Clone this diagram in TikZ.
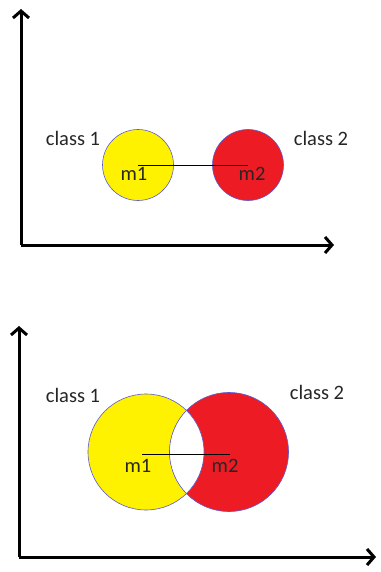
\documentclass[tikz,border=0pt]{standalone}
\usepackage{fontspec}
\setmainfont{Carlito}
\usepackage{tikz}
\usepackage{xcolor}
\usetikzlibrary{arrows.meta}
\definecolor{klasseA}{RGB}{255,242,0}
\definecolor{klasseB}{RGB}{237,28,36}
\definecolor{rand}{RGB}{90,90,210}
\tikzset{
  achse/.style={line width=3pt, -{Straight Barb[length=7pt,width=16pt,line width=3pt]}},
  kreis/.style={draw=rand, line width=0.6pt},
  etikett/.style={font=\fontsize{20.5}{24}\selectfont, text=black!85, inner sep=0pt},
  abstand/.style={line width=0.9pt}
}
\begin{document}
\begin{tikzpicture}[x=1pt,y=-1pt]
\useasboundingbox (0,0) rectangle (380,572);
% oberes Bild: Klassen weit auseinander
\coordinate (O1) at (21,245);
\coordinate (y1) at (21,9);
\coordinate (x1) at (334,245);
\draw[achse] (O1) -- (y1);
\draw[achse] (O1) -- (x1);
\coordinate (m1o) at (138,165);
\coordinate (m2o) at (248,165);
\fill[klasseA] (m1o) circle (35.5);
\fill[klasseB] (m2o) circle (35.5);
\draw[kreis] (m1o) circle (35.5);
\draw[kreis] (m2o) circle (35.5);
\draw[abstand] (m1o) -- (m2o);
\node[etikett] (k1o) at (73,138) {class 1};
\node[etikett] (k2o) at (321,138) {class 2};
\node[etikett] (t1o) at (134,174) {m1};
\node[etikett] (t2o) at (252,174) {m2};
% unteres Bild: Klassen ueberlappen sich
\coordinate (O2) at (19,557);
\coordinate (y2) at (19,326);
\coordinate (x2) at (376,557);
\draw[achse] (O2) -- (y2);
\draw[achse] (O2) -- (x2);
\coordinate (m1u) at (146,452);
\coordinate (m2u) at (229,452);
\coordinate (a1u) at (142,454);
\coordinate (a2u) at (230,454);
\fill[klasseA] (m1u) circle (58);
\fill[klasseB] (m2u) circle (59.5);
% Schnittmenge bleibt weiss
\begin{scope}
  \clip (m1u) circle (58);
  \fill[white] (m2u) circle (59.5);
\end{scope}
\draw[kreis] (m1u) circle (58);
\draw[kreis] (m2u) circle (59.5);
\draw[abstand] (a1u) -- (a2u);
\node[etikett] (k1u) at (73,395) {class 1};
\node[etikett] (k2u) at (317,392) {class 2};
\node[etikett] (t1u) at (138,466) {m1};
\node[etikett] (t2u) at (225,466) {m2};
\end{tikzpicture}
\end{document}
